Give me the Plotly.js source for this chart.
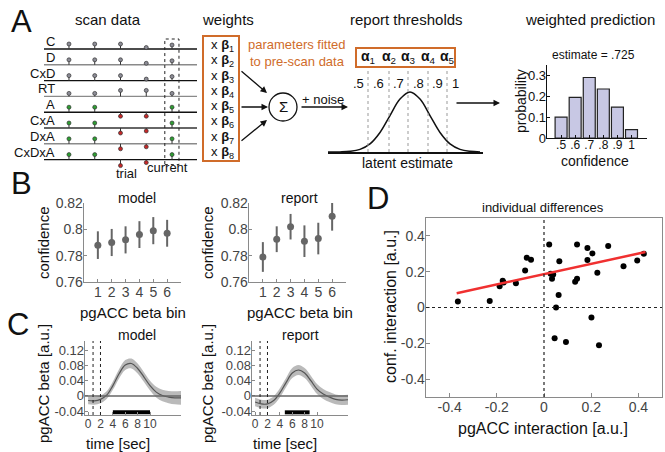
<!DOCTYPE html>
<html><head><meta charset="utf-8">
<script src="https://cdn.plot.ly/plotly-3.0.1.min.js"></script>
<style>html,body{margin:0;padding:0;background:#fff}#chart{width:665px;height:452px}</style>
</head><body><div id="chart"></div>
<script>
// ---------- Panel A data ----------
const scanRows = ['C','D','CxD','RT','A','CxA','DxA','CxDxA'];
const scanTrials = [1,2,3,4,5];
const scanC     = [5,5,5,1.5,4];
const scanD     = [5,5,5,1.5,4];
const scanCxD   = [5,5,5,1.5,4];
const scanRT    = [3,3,6,6,3];
const scanA     = [5,5,-4,-4,5];
const scanCxA   = [5,5,-5,-3,5];
const scanDxA   = [5,5,-5,-3,5];
const scanCxDxA = [5,5,-6,-3,5];
const currentTrial = 5;
const weightIdx = [1,2,3,4,5,6,7,8];
const alphaIdx = [1,2,3,4,5];
const thresholdsZ = [-2.1,-1.05,-0.1,0.9,1.85];
const confLabels = ['.5','.6','.7','.8','.9','1'];
const latentZ = [-4.1,-3.5,-3,-2.5,-2,-1.5,-1,-0.5,0,0.5,1,1.5,2,2.5,3,3.5];
const latentDensity = [0.0,0.002,0.011,0.044,0.135,0.325,0.607,0.882,1,0.882,0.607,0.325,0.135,0.044,0.011,0.002];
const histConf = [0.5,0.6,0.7,0.8,0.9,1.0];
const histProb = [0.10,0.195,0.29,0.235,0.148,0.04];
// ---------- Panel B data ----------
const betaBins = [1,2,3,4,5,6];
const modelConf = [0.788,0.790,0.792,0.796,0.799,0.797];
const modelErr  = [0.0105,0.0103,0.0103,0.0102,0.0103,0.0102];
const reportConf = [0.779,0.7925,0.802,0.791,0.793,0.810];
const reportErr  = [0.0113,0.0098,0.0097,0.012,0.012,0.011];
// ---------- Panel C data ----------
const timeSec = [0,1,2,3,4,5,6,7,8,9,10,11,12,13,14,15];
const modelBeta = [-0.012,-0.013,-0.009,0.002,0.027,0.058,0.081,0.085,0.072,0.050,0.027,0.010,0.001,-0.003,-0.005,-0.005];
const modelSe   = [0.010,0.010,0.010,0.010,0.011,0.012,0.013,0.013,0.013,0.013,0.013,0.014,0.015,0.016,0.017,0.018];
const reportBeta = [-0.016,-0.021,-0.021,-0.012,0.008,0.035,0.060,0.068,0.060,0.040,0.018,0.005,-0.003,-0.009,-0.011,-0.010];
const reportSe   = [0.011,0.011,0.011,0.011,0.012,0.012,0.013,0.013,0.013,0.013,0.013,0.013,0.013,0.013,0.013,0.013];
const cueTimes = [0.8,2.0];
const modelSig = [4,10];
const reportSig = [4.8,8.8];
const sigLevel = -0.043;
// ---------- Panel D data ----------
const pgaccX = [-0.365,-0.230,-0.188,-0.175,-0.171,-0.119,-0.080,-0.073,-0.055,0.022,0.028,0.039,0.034,0.051,0.062,0.065,0.045,0.093,0.132,0.140,0.140,0.184,0.184,0.205,0.201,0.226,0.233,0.272,0.337,0.395,0.423];
const confY  = [0.033,0.037,0.119,0.150,0.140,0.135,0.207,0.278,0.267,0.352,0.189,0.185,0.161,0.0,0.070,0.259,-0.172,-0.193,0.144,0.161,0.352,0.333,0.265,0.302,-0.056,0.194,-0.211,0.343,0.231,0.263,0.300];
const fitX = [-0.37,0.43];
const fitY = [0.08,0.31];

// ---------- helpers ----------
const W=665,H=452;
const FONT='Liberation Sans, Arial, Helvetica, sans-serif';
const X=p=>p/W, Y=p=>1-p/H;
const dom=(a,b)=>[a/W,b/W];
const domY=(top,bot)=>[1-bot/H,1-top/H];
const traces=[], ann=[], shapes=[];
const ORANGE='rgb(208,108,42)';
function T(x,y,text,size,o){ann.push(Object.assign({xref:'paper',yref:'paper',x:X(x),y:Y(y),text:text,showarrow:false,font:{size:size,color:'#111',family:FONT},xanchor:'center',yanchor:'middle'},o||{}));}
function arrow(x0,y0,x1,y1){ann.push({xref:'paper',yref:'paper',x:X(x1),y:Y(y1),ax:x0-x1,ay:y0-y1,text:'',showarrow:true,arrowhead:2,arrowsize:1,arrowwidth:1.3,arrowcolor:'#111',standoff:0});}
function ax(o){return Object.assign({showgrid:false,zeroline:false,showline:true,linecolor:'#8a8a8a',linewidth:1.3,ticks:'inside',ticklen:3,tickcolor:'#8a8a8a',tickangle:0,ticklabelstandoff:-3,tickfont:{size:14,color:'#444',family:FONT},fixedrange:true},o);}
const hidden=o=>Object.assign({visible:false,showgrid:false,zeroline:false,fixedrange:true},o);

// ---------- Panel A: scan data ----------
const scanAll=[scanC,scanD,scanCxD,scanRT,scanA,scanCxA,scanDxA,scanCxDxA];
const rowGap=15.8;
const scanXR=[0.03,5.97];
const rowColors=['#111','#8a8a8a','#111','#8a8a8a','#111','#333','#8a8a8a','#111'];
scanRows.forEach((r,i)=>{
  const b=-i*rowGap;
  traces.push({x:scanXR,y:[b,b],xaxis:'x',yaxis:'y',mode:'lines',line:{color:rowColors[i],width:1.4},hoverinfo:'skip'});
  ann.push({xref:'x',yref:'y',x:0.55,y:b,text:r,xanchor:'right',yanchor:'bottom',showarrow:false,yshift:-2,font:{size:13,color:'#111',family:FONT}});
});
const sx=[],sy=[],mx=[],my=[],mc=[];
scanAll.forEach((vals,i)=>{
  const b=-i*rowGap;
  vals.forEach((v,j)=>{
    const t=scanTrials[j];
    sx.push(t,t,null); sy.push(b,b+v,null);
    mx.push(t); my.push(b+v);
    mc.push(i<4?'#8c8c96':(v>=0?'#2e9e32':'#c62828'));
  });
});
traces.push({x:sx,y:sy,xaxis:'x',yaxis:'y',mode:'lines',line:{color:'#333',width:1},hoverinfo:'skip'});
traces.push({x:mx,y:my,xaxis:'x',yaxis:'y',mode:'markers',marker:{size:4,color:mc,line:{color:'#333',width:0.7}},hoverinfo:'skip'});
shapes.push({type:'rect',xref:'x',yref:'y',x0:currentTrial-0.28,x1:currentTrial+0.27,y0:-7*rowGap-5,y1:10,line:{color:'#222',width:1,dash:'dot'}});
T(108,19,'scan data',15);
T(126,173,'trial',13);
T(167,167,'current',13);
T(22,22,'A',31);

// weights
T(228,19,'weights',15);
shapes.push({type:'rect',xref:'paper',yref:'paper',x0:X(203),x1:X(239),y0:Y(161),y1:Y(36),line:{color:ORANGE,width:2}});
weightIdx.forEach((k,i)=>T(209,45.5+15.3*i,'x <b>β</b><sub>'+k+'</sub>',13,{xanchor:'left'}));
T(297,45,'parameters fitted',13,{font:{size:13,color:ORANGE,family:FONT}});
T(297,62,'to pre-scan data',13,{font:{size:13,color:ORANGE,family:FONT}});
shapes.push({type:'circle',xref:'paper',yref:'paper',x0:X(269),x1:X(297),y0:Y(121),y1:Y(93),line:{color:'#111',width:1.3}});
T(283,107,'Σ',15);
arrow(240,70,267,93);
arrow(240,107,268,107);
arrow(240,142,267,120);
arrow(300,107,348,107);
T(323,99,'+ noise',13);

// thresholds
T(406,19,'report thresholds',15);
traces.push({x:latentZ,y:latentDensity,xaxis:'x2',yaxis:'y2',mode:'lines',line:{color:'#111',width:1.5,shape:'spline'},hoverinfo:'skip'});
const thx=[],thy=[];
thresholdsZ.forEach(z=>{thx.push(z,z,null);thy.push(0,1.42,null);});
traces.push({x:thx,y:thy,xaxis:'x2',yaxis:'y2',mode:'lines',line:{color:'#999',width:1,dash:'dot'},hoverinfo:'skip'});
shapes.push({type:'rect',xref:'paper',yref:'paper',x0:X(356),x1:X(455),y0:Y(67),y1:Y(48),line:{color:ORANGE,width:2}});
alphaIdx.forEach((k,i)=>ann.push({xref:'x2',yref:'paper',x:thresholdsZ[i],y:Y(57),xanchor:'center',yanchor:'middle',text:'<b>α</b><sub>'+k+'</sub>',showarrow:false,font:{size:14,color:'#111',family:FONT}}));
const labZ=[thresholdsZ[0]-0.5];
for(let i=0;i<thresholdsZ.length-1;i++) labZ.push((thresholdsZ[i]+thresholdsZ[i+1])/2);
labZ.push(thresholdsZ[thresholdsZ.length-1]+0.4);
confLabels.forEach((s,i)=>ann.push({xref:'x2',yref:'y2',x:labZ[i],y:1.15,text:s,showarrow:false,font:{size:13,color:'#111',family:FONT}}));
T(407,163,'latent estimate',14);
arrow(455,103,500,103);

// histogram
T(590,19,'weighted prediction',15);
traces.push({type:'bar',x:histConf,y:histProb,xaxis:'x3',yaxis:'y3',width:0.085,marker:{color:'rgb(200,200,228)',line:{color:'#222',width:1.2}},hoverinfo:'skip'});
T(593,55,'estimate = .725',12);
T(521,101,'probability',14,{textangle:-90});
T(595,161,'confidence',14);

// ---------- Panel B ----------
T(22,184,'B',31);
traces.push({x:betaBins,y:modelConf,xaxis:'x4',yaxis:'y4',mode:'markers',marker:{size:7,color:'#666'},error_y:{type:'data',array:modelErr,color:'#666',thickness:2,width:0},hoverinfo:'skip'});
traces.push({x:betaBins,y:reportConf,xaxis:'x5',yaxis:'y5',mode:'markers',marker:{size:7,color:'#666'},error_y:{type:'data',array:reportErr,color:'#666',thickness:2,width:0},hoverinfo:'skip'});
T(137,198,'model',14); T(299,198,'report',14);
T(43,243,'confidence',15,{textangle:-90}); T(207,243,'confidence',15,{textangle:-90});
T(133,312,'pgACC beta bin',15); T(300,312,'pgACC beta bin',15);

// ---------- Panel C ----------
T(18,324,'C',31);
function band(t,m,se,xa,ya){
  traces.push({x:t,y:m.map((v,i)=>v+se[i]),xaxis:xa,yaxis:ya,mode:'lines',line:{width:0,shape:'spline'},hoverinfo:'skip'});
  traces.push({x:t,y:m.map((v,i)=>v-se[i]),xaxis:xa,yaxis:ya,mode:'lines',line:{width:0,shape:'spline'},fill:'tonexty',fillcolor:'rgba(140,140,140,0.6)',hoverinfo:'skip'});
  traces.push({x:t,y:m,xaxis:xa,yaxis:ya,mode:'lines',line:{color:'#555',width:1.2,shape:'spline'},hoverinfo:'skip'});
}
band(timeSec,modelBeta,modelSe,'x6','y6');
band(timeSec,reportBeta,reportSe,'x7','y7');
traces.push({x:modelSig,y:[sigLevel,sigLevel],xaxis:'x6',yaxis:'y6',mode:'lines',line:{color:'#000',width:4},hoverinfo:'skip'});
traces.push({x:reportSig,y:[sigLevel,sigLevel],xaxis:'x7',yaxis:'y7',mode:'lines',line:{color:'#000',width:4},hoverinfo:'skip'});
[['x6','y6'],['x7','y7']].forEach(([xa,ya])=>{
  shapes.push({type:'line',xref:xa+' domain',yref:ya,x0:0,x1:1,y0:0,y1:0,line:{color:'#666',width:1.5}});
  cueTimes.forEach(t=>shapes.push({type:'line',xref:xa,yref:ya+' domain',x0:t,x1:t,y0:0,y1:1,line:{color:'#222',width:1,dash:'dot'}}));
});
T(137,335,'model',14); T(300,335,'report',14);
T(43,384,'pgACC beta [a.u.]',15,{textangle:-90}); T(207,384,'pgACC beta [a.u.]',15,{textangle:-90});
T(118,443,'time [sec]',15); T(285,443,'time [sec]',15);

// ---------- Panel D ----------
T(378,198,'D',31);
traces.push({x:pgaccX,y:confY,xaxis:'x8',yaxis:'y8',mode:'markers',marker:{size:6,color:'#000'},hoverinfo:'skip'});
traces.push({x:fitX,y:fitY,xaxis:'x8',yaxis:'y8',mode:'lines',line:{color:'#f03030',width:2.5},hoverinfo:'skip'});
shapes.push({type:'line',xref:'x8',yref:'y8 domain',x0:0,x1:0,y0:0,y1:1,line:{color:'#222',width:1.2,dash:'dot'}});
shapes.push({type:'line',xref:'x8 domain',yref:'y8',x0:0,x1:1,y0:0,y1:0,line:{color:'#222',width:1.2,dash:'dot'}});
T(543,207,'individual differences',13);
T(390,307,'conf. interaction [a.u.]',16,{textangle:-90});
T(543,428,'pgACC interaction [a.u.]',16);

const bTicksY={tickvals:[0.76,0.78,0.8,0.82],ticktext:['0.76','0.78','0.8','0.82']};
const cTicksY={tickvals:[-0.04,0,0.04,0.08,0.12],ticktext:['-0.04','0','0.04','0.08','0.12'],tickfont:{size:13,color:'#444',family:FONT}};
const cTicksX={tickvals:[0,2,4,6,8,10],ticktext:['0','2','4','6','8','10'],tickfont:{size:12,color:'#444',family:FONT}};
const dTicks={tickvals:[-0.4,-0.2,0,0.2,0.4],ticktext:['-0.4','-0.2','0','0.2','0.4'],mirror:true};

const layout={
  width:W,height:H,margin:{l:0,r:0,t:0,b:0},paper_bgcolor:'#fff',plot_bgcolor:'rgba(0,0,0,0)',
  showlegend:false,font:{family:FONT,color:'#111'},
  xaxis:hidden({domain:dom(44,197),range:scanXR,anchor:'y'}),
  yaxis:hidden({domain:domY(30,170),range:[-121,19],anchor:'x'}),
  xaxis2:{domain:dom(328,483),range:[-4.1,3.65],anchor:'y2',showline:true,linecolor:'#111',linewidth:2,showticklabels:false,ticks:'',showgrid:false,zeroline:false,fixedrange:true},
  yaxis2:hidden({domain:domY(40,152),range:[0,1.867],anchor:'x2'}),
  xaxis3:ax({domain:dom(547,647),range:[0.4,1.11],anchor:'y3',linecolor:'#111',tickcolor:'#111',ticklabelstandoff:-5,tickvals:histConf,ticktext:confLabels,tickfont:{size:12,color:'#111',family:FONT}}),
  yaxis3:ax({domain:domY(65,138),range:[0,0.35],anchor:'x3',linecolor:'#111',tickcolor:'#111',tickvals:[0,0.1,0.2,0.3],ticktext:['0','0.1','0.2','0.3'],tickfont:{size:13,color:'#111',family:FONT}}),
  xaxis4:ax({domain:dom(84,181),range:[0,7],anchor:'y4',tickvals:betaBins}),
  yaxis4:ax(Object.assign({domain:domY(203,282),range:[0.76,0.82],anchor:'x4'},bTicksY)),
  xaxis5:ax({domain:dom(249,346),range:[0,7],anchor:'y5',tickvals:betaBins}),
  yaxis5:ax(Object.assign({domain:domY(203,282),range:[0.76,0.82],anchor:'x5'},bTicksY)),
  xaxis6:ax(Object.assign({domain:dom(85,181),range:[-0.5,15],anchor:'y6'},cTicksX)),
  yaxis6:ax(Object.assign({domain:domY(341,415),range:[-0.05,0.144],anchor:'x6'},cTicksY)),
  xaxis7:ax(Object.assign({domain:dom(252,348),range:[-0.5,15],anchor:'y7'},cTicksX)),
  yaxis7:ax(Object.assign({domain:domY(341,415),range:[-0.05,0.144],anchor:'x7'},cTicksY)),
  xaxis8:ax(Object.assign({domain:dom(426,662),range:[-0.5,0.5],anchor:'y8',ticklen:4},dTicks)),
  yaxis8:ax(Object.assign({domain:domY(218,397),range:[-0.5,0.5],anchor:'x8',ticklen:4},dTicks)),
  annotations:ann,shapes:shapes
};
Plotly.newPlot('chart',traces,layout,{staticPlot:true,displayModeBar:false});
</script></body></html>
